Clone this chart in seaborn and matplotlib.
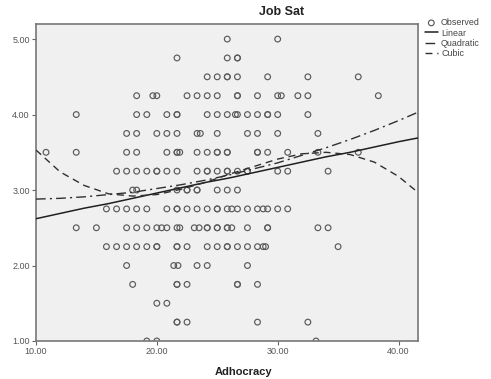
"""SPSS-style curve estimation: Job Sat against Adhocracy with linear,
quadratic and cubic fits."""
import numpy as np
import pandas as pd
import seaborn as sns
import matplotlib
matplotlib.use("Agg")
import matplotlib.pyplot as plt

# Observed points: Adhocracy scores for each Job Sat level
sat_levels = [5.00, 4.75, 4.50, 4.25, 4.00, 3.75, 3.50, 3.25, 3.00,
              2.75, 2.50, 2.25, 2.00, 1.75, 1.50, 1.25, 1.00]
adhoc_500 = [25.83, 30.0]
adhoc_475 = [21.67, 25.83, 26.67, 26.67]
adhoc_450 = [24.17, 25.0, 25.83, 25.83, 26.67, 29.17, 32.5, 36.67]
adhoc_425 = [18.33, 19.67, 20.0, 22.5, 23.33, 24.17, 25.0, 26.67, 26.67,
             28.33, 30.0, 30.3, 31.67, 32.5, 38.33]
adhoc_400 = [13.33, 18.33, 19.17, 20.83, 21.67, 21.67, 24.17, 25.0, 25.83,
             26.5, 26.67, 27.5, 28.33, 29.17, 29.17, 30.0, 32.5]
adhoc_375 = [17.5, 18.33, 20.0, 20.83, 21.67, 23.33, 23.6, 25.0, 27.5,
             28.33, 30.0, 33.33]
adhoc_350 = [10.83, 13.33, 17.5, 18.33, 20.83, 21.67, 21.67, 21.9, 23.33,
             24.17, 25.0, 25.0, 25.83, 25.83, 28.33, 28.33, 29.17, 30.83,
             33.33, 36.67]
adhoc_325 = [16.67, 17.5, 18.33, 19.17, 20.0, 20.0, 20.83, 21.67, 23.33,
             24.17, 24.17, 25.0, 25.83, 25.83, 26.67, 27.5, 27.5, 30.0,
             30.83, 34.17]
adhoc_300 = [18.0, 18.33, 21.67, 22.5, 22.5, 23.33, 23.33, 25.0, 25.83, 26.67]
adhoc_275 = [15.83, 16.67, 17.5, 18.33, 19.17, 20.83, 21.67, 21.67, 22.5,
             23.33, 24.17, 25.0, 25.0, 25.83, 26.2, 26.67, 27.5, 28.33,
             28.8, 29.17, 30.0, 30.83]
adhoc_250 = [13.33, 15.0, 17.5, 18.33, 19.17, 20.0, 20.4, 20.83, 21.67,
             21.9, 23.1, 23.5, 24.17, 24.17, 25.0, 25.0, 25.83, 25.83, 26.2,
             27.5, 29.17, 29.17, 33.33, 34.17]
adhoc_225 = [15.83, 16.67, 17.5, 18.33, 19.17, 20.0, 20.0, 21.67, 21.67,
             22.5, 24.17, 25.0, 25.83, 25.83, 26.67, 27.5, 28.33, 28.8,
             29.0, 35.0]
adhoc_200 = [17.5, 21.4, 21.75, 23.33, 24.17, 27.5]
adhoc_175 = [18.0, 21.67, 21.67, 22.5, 26.67, 26.67, 28.33]
adhoc_150 = [20.0, 20.83]
adhoc_125 = [21.67, 21.67, 22.5, 28.33, 32.5]
adhoc_100 = [19.17, 20.0, 33.17]
adhoc_rows = [adhoc_500, adhoc_475, adhoc_450, adhoc_425, adhoc_400,
              adhoc_375, adhoc_350, adhoc_325, adhoc_300, adhoc_275,
              adhoc_250, adhoc_225, adhoc_200, adhoc_175, adhoc_150,
              adhoc_125, adhoc_100]

# Fitted curves
fit_x = [10, 12, 14, 16, 18, 20, 22, 24, 26, 28, 30, 32, 34, 36, 38, 40, 41.6]
linear_y = [2.62, 2.69, 2.76, 2.82, 2.89, 2.96, 3.03, 3.10, 3.16, 3.23,
            3.30, 3.37, 3.44, 3.50, 3.57, 3.64, 3.69]
quadratic_y = [2.88, 2.89, 2.91, 2.94, 2.97, 3.02, 3.07, 3.13, 3.20, 3.28,
               3.36, 3.46, 3.56, 3.67, 3.79, 3.92, 4.03]
cubic_y = [3.53, 3.24, 3.06, 2.95, 2.92, 2.94, 3.01, 3.10, 3.21, 3.31,
           3.41, 3.48, 3.50, 3.47, 3.37, 3.18, 2.97]

obs = pd.DataFrame({
    "Adhocracy": [x for row in adhoc_rows for x in row],
    "Job Sat": [lvl for lvl, row in zip(sat_levels, adhoc_rows) for _ in row],
})

sns.set_style("ticks")
plt.rcParams["font.family"] = ["Liberation Sans", "DejaVu Sans"]

fig = plt.figure(figsize=(4.91, 3.79), dpi=100)
ax = fig.add_axes([0.0733, 0.1003, 0.7777, 0.8364])
ax.set_facecolor("#f0f0f0")

sns.scatterplot(data=obs, x="Adhocracy", y="Job Sat", ax=ax, marker="o",
                s=17, facecolor="none", edgecolor="#5a5a5a", linewidth=0.85,
                label="Observed", zorder=2)
sns.lineplot(x=fit_x, y=linear_y, ax=ax, color="#202020", lw=1.1,
             label="Linear", zorder=3)
sns.lineplot(x=fit_x, y=quadratic_y, ax=ax, color="#303030", lw=1.0,
             label="Quadratic", zorder=3)
ax.lines[-1].set_dashes([7, 3, 1.5, 3])
sns.lineplot(x=fit_x, y=cubic_y, ax=ax, color="#303030", lw=1.0,
             label="Cubic", zorder=3)
ax.lines[-1].set_dashes([5, 3.5])

ax.set_xlim(10, 41.6)
ax.set_ylim(1.0, 5.2)
ax.set_xticks([10, 20, 30, 40])
ax.set_yticks([1, 2, 3, 4, 5])
ax.xaxis.set_major_formatter(matplotlib.ticker.FormatStrFormatter("%.2f"))
ax.yaxis.set_major_formatter(matplotlib.ticker.FormatStrFormatter("%.2f"))
ax.tick_params(labelsize=6.5, labelcolor="#555555", color="#666666",
               length=3, width=0.8, pad=1.5)
for side in ax.spines.values():
    side.set_color("#777777")
    side.set_linewidth(1.2)
ax.set_xlabel("")
ax.set_ylabel("")

fig.text(0.573, 0.968, "Job Sat", ha="center", va="center",
         fontsize=9, fontweight="bold", color="#222222")
fig.text(0.495, 0.018, "Adhocracy", ha="center", va="center",
         fontsize=8, fontweight="bold", color="#222222")

ax.legend(loc="upper left", bbox_to_anchor=(1.005, 1.035), frameon=False,
          fontsize=6.4, handlelength=1.4, handletextpad=0.4,
          labelspacing=0.15, borderaxespad=0.2, labelcolor="#444444")

fig.savefig("out.png", dpi=100)
plt.close(fig)
